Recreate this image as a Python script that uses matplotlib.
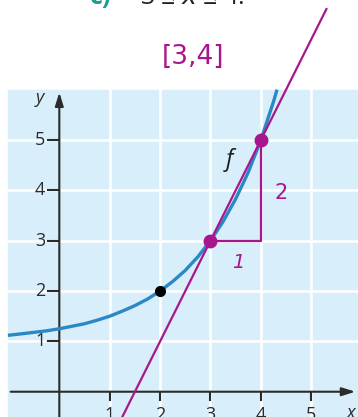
import matplotlib.pyplot as plt
from matplotlib.patches import Rectangle

curve_x = [-1.02, -0.75, -0.5, -0.25, 0, 0.25, 0.5, 0.75, 1, 1.25, 1.5, 1.75,
           2, 2.25, 2.5, 2.75, 3, 3.25, 3.5, 3.75, 4, 4.25, 4.32]
curve_y = [1.12, 1.15, 1.18, 1.21, 1.25, 1.30, 1.35, 1.42, 1.5, 1.60, 1.71, 1.84,
           2.0, 2.19, 2.41, 2.68, 3.0, 3.38, 3.83, 4.36, 5.0, 5.76, 6.0]

# secant over [3, 4]
sec_x = [3, 4]
sec_y = [3, 5]
sec_slope = (sec_y[1] - sec_y[0]) / (sec_x[1] - sec_x[0])
sec_ends = [1.2, 5.3]

marked_pt = (2, 2)
ticks = [1, 2, 3, 4, 5]

MAGENTA = "#a8168e"
CURVE = "#2a88c4"
AXIS = "#2b2b2b"
BG = "#d8effb"

fig = plt.figure(figsize=(3.58, 4.17), dpi=100)
ax = fig.add_axes([0, 0, 1, 1])
ax.set_xlim(-1.177, 5.927)
ax.set_ylim(-0.502, 7.78)
ax.axis("off")

# blue grid area
ax.add_patch(Rectangle((-1.02, -0.6), 7.1, 6.6, color=BG, zorder=0))
for t in ticks:
    ax.plot([t, t], [-0.6, 6], color="white", lw=1.8, zorder=1)
    ax.plot([-1.02, 6], [t, t], color="white", lw=1.8, zorder=1)

# axes with arrows
ax.annotate("", xy=(5.93, 0), xytext=(-1.02, 0),
            arrowprops=dict(arrowstyle="-|>,head_length=0.8,head_width=0.25",
                            color=AXIS, lw=1.5), zorder=3)
ax.annotate("", xy=(0, 6.0), xytext=(0, -0.6),
            arrowprops=dict(arrowstyle="-|>,head_length=0.8,head_width=0.25",
                            color=AXIS, lw=1.5), zorder=3)
for t in ticks:
    ax.plot([t, t], [0, -0.17], color=AXIS, lw=1.5, zorder=3)
    ax.plot([-0.22, 0], [t, t], color=AXIS, lw=1.5, zorder=3)
    ax.text(-0.28, t, str(t), ha="right", va="center", fontsize=13,
            family="Open Sans", color=AXIS, zorder=3)
    ax.text(t, -0.29, str(t), ha="center", va="top", fontsize=13,
            family="Open Sans", color=AXIS, zorder=3)
ax.text(-0.38, 5.83, "y", ha="center", va="center", fontsize=13,
        family="Open Sans", style="italic", color=AXIS)
ax.text(5.78, -0.42, "x", ha="center", va="center", fontsize=13,
        family="Open Sans", style="italic", color=AXIS)

# function f
ax.plot(curve_x, curve_y, color=CURVE, lw=2.4, zorder=4, solid_capstyle="butt")
ax.text(3.38, 4.6, "f", ha="center", va="center", fontsize=17,
        family="Open Sans", style="italic", color="#1e1e1e", zorder=5)
ax.plot(*marked_pt, "o", color="black", ms=7, zorder=6)

# secant line and slope triangle
line_y = [sec_y[0] + sec_slope * (x - sec_x[0]) for x in sec_ends]
ax.plot(sec_ends, line_y, color=MAGENTA, lw=1.6, zorder=5)
ax.plot([sec_x[0], sec_x[1], sec_x[1]], [sec_y[0], sec_y[0], sec_y[1]],
        color=MAGENTA, lw=1.6, zorder=5)
ax.plot(sec_x, sec_y, "o", color=MAGENTA, ms=9, zorder=6)
ax.text(3.55, 2.57, "1", ha="center", va="center", fontsize=14,
        color=MAGENTA, style="italic")
ax.text(4.4, 3.95, "2", ha="center", va="center", fontsize=15, color=MAGENTA)
ax.text(2.66, 6.65, "[3,4]", ha="center", va="center", fontsize=19,
        color=MAGENTA)

# exercise heading, cut off at the top edge
ax.text(0.6, 7.70, "c)", ha="left", va="baseline", fontsize=18,
        fontweight="bold", color="#1f9c8c", family="Open Sans")
ax.text(1.6, 7.70, "3 ≤ $x$ ≤ 4.", ha="left", va="baseline", fontsize=18,
        color="#222222", family="Open Sans")

fig.savefig("out.png", dpi=100)
